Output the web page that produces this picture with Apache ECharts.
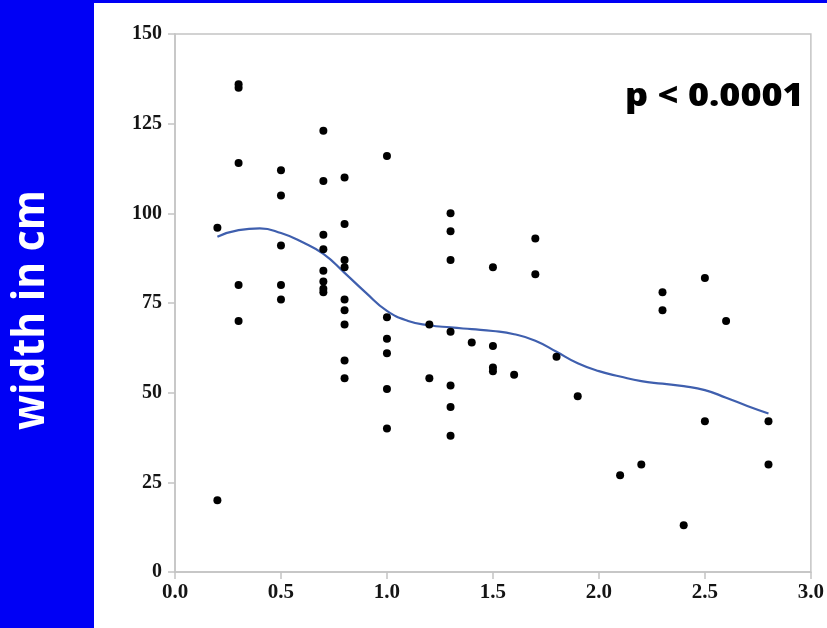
<!DOCTYPE html>
<html>
<head>
<meta charset="utf-8">
<script src="https://cdn.jsdelivr.net/npm/echarts@6/dist/echarts.min.js"></script>
<style>
html,body{margin:0;padding:0;background:#fff;}
#c{width:827px;height:628px;}
</style>
</head>
<body>
<div id="c"></div>
<script>
// Scatter data (x = group value, y = width in cm)
var pointX = [
  0.2,0.2,
  0.3,0.3,0.3,0.3,0.3,
  0.5,0.5,0.5,0.5,0.5,
  0.7,0.7,0.7,0.7,0.7,0.7,0.7,0.7,
  0.8,0.8,0.8,0.8,0.8,0.8,0.8,0.8,0.8,
  1.0,1.0,1.0,1.0,1.0,1.0,
  1.2,1.2,
  1.3,1.3,1.3,1.3,1.3,1.3,1.3,
  1.4,
  1.5,1.5,1.5,1.5,
  1.6,
  1.7,1.7,
  1.8,
  1.9,
  2.1,
  2.2,
  2.3,2.3,
  2.4,
  2.5,2.5,
  2.6,
  2.8,2.8
];
var pointY = [
  96,20,
  136,135,114,80,70,
  112,105,91,80,76,
  123,109,94,90,84,81,79,78,
  110,97,87,85,76,73,69,59,54,
  116,71,65,61,51,40,
  69,54,
  100,95,87,67,52,46,38,
  64,
  85,63,57,56,
  55,
  93,83,
  60,
  49,
  27,
  30,
  78,73,
  13,
  82,42,
  70,
  42,30
];
// Smoothed fit curve
var curveX = [0.2,0.3,0.4,0.5,0.6,0.7,0.8,0.9,1.0,1.1,1.2,1.3,1.4,1.5,1.6,1.7,1.8,1.9,2.0,2.1,2.2,2.3,2.4,2.5,2.6,2.7,2.8];
var curveY = [93.5,95.3,95.8,94.5,92.0,88.7,83.4,77.9,72.8,70.0,68.8,68.2,67.7,67.2,66.3,64.5,61.4,58.2,56.0,54.5,53.2,52.5,51.8,50.7,48.6,46.3,44.2];
var xTicks = [0.0,0.5,1.0,1.5,2.0,2.5,3.0];
var yTicks = [0,25,50,75,100,125,150];
var yTitle = 'width in cm';
var note = 'p < 0.0001';

var scatterData = pointX.map(function(x,i){return [x, pointY[i]];});
var curveData = curveX.map(function(x,i){return [x, curveY[i]];});

var chart = echarts.init(document.getElementById('c'), null, {renderer:'canvas'});
var axisGray = '#c4c4c4';
var labelFont = {fontFamily:'Liberation Serif', fontWeight:'bold', color:'#141414'};
chart.setOption({
  animation:false,
  backgroundColor:'#ffffff',
  grid:{left:175, right:12, top:34, bottom:56, show:true, borderColor:axisGray, borderWidth:1.5, backgroundColor:'transparent'},
  xAxis:{
    type:'value', min:xTicks[0], max:xTicks[xTicks.length-1], interval:0.5,
    axisLine:{show:true, lineStyle:{color:axisGray, width:1.5}},
    axisTick:{show:true, length:7, lineStyle:{color:axisGray, width:1.5}},
    splitLine:{show:false},
    axisLabel:Object.assign({fontSize:21, margin:10, formatter:function(v){return v.toFixed(1);}}, labelFont)
  },
  yAxis:{
    type:'value', min:yTicks[0], max:yTicks[yTicks.length-1], interval:25,
    axisLine:{show:true, lineStyle:{color:axisGray, width:1.5}},
    axisTick:{show:true, length:7, lineStyle:{color:axisGray, width:1.5}},
    splitLine:{show:false},
    axisLabel:Object.assign({fontSize:20, margin:13}, labelFont)
  },
  series:[
    {type:'scatter', data:scatterData, symbol:'circle', symbolSize:8,
     itemStyle:{color:'#000000', opacity:1}, z:3},
    {type:'line', data:curveData, smooth:true, showSymbol:false, symbol:'none',
     lineStyle:{color:'#3f5fae', width:2.2}, z:2}
  ],
  graphic:[
    {type:'rect', left:0, top:0, shape:{width:94, height:628}, style:{fill:'#0000f5'}, z:10},
    {type:'rect', left:0, top:0, shape:{width:827, height:3}, style:{fill:'#0000f5'}, z:10},
    {type:'text', x:31.5, y:310, rotation:Math.PI/2, scaleX:0.93, scaleY:1,
     style:{text:yTitle, fill:'#ffffff', font:'bold 44px "Open Sans"', textAlign:'center', textVerticalAlign:'middle'}, z:11},
    {type:'text', x:625, y:97, scaleX:1.16, scaleY:1,
     style:{text:note, fill:'#000000', font:'800 31px "Open Sans"', textAlign:'left', textVerticalAlign:'middle'}, z:11}
  ]
});
</script>
</body>
</html>
